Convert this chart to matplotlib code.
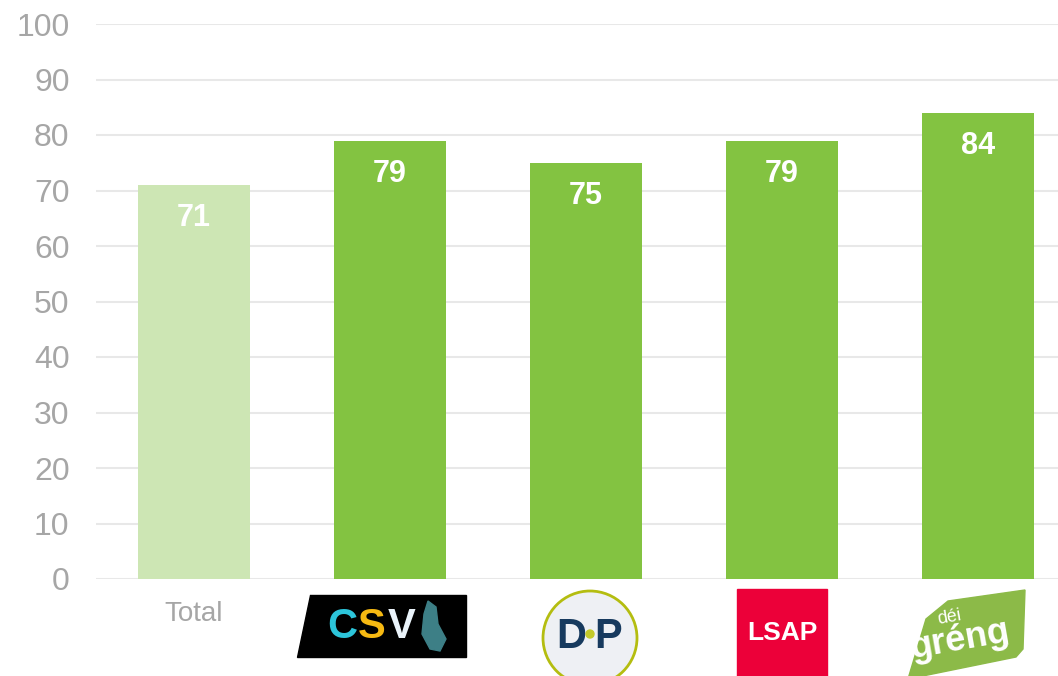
import matplotlib
matplotlib.use("Agg")
import matplotlib.pyplot as plt
from matplotlib.patches import Polygon, Ellipse, Rectangle

plt.rcParams['font.family'] = ['Liberation Sans', 'DejaVu Sans']

# data
parties = ['Total', 'CSV', 'DP', 'LSAP', 'déi gréng']
values = [71, 79, 75, 79, 84]
bar_colors = ['#cde6b4', '#83c341', '#83c341', '#83c341', '#83c341']

fig = plt.figure(figsize=(10.58, 6.76), dpi=100)
ax = fig.add_axes([96 / 1058, 97 / 676, (1058 - 96) / 1058, 555 / 676])

x = list(range(len(parties)))
bars = ax.bar(x, values, width=0.571, color=bar_colors, zorder=3)

for xi, v in zip(x, values):
    ax.text(xi, v - 6, str(v), ha='center', va='center', color='white',
            fontsize=22, fontweight='bold', zorder=4)

ax.set_ylim(0, 100)
ax.set_xlim(-0.5, -0.5 + (1058 - 96) / 196)
ax.set_yticks(range(0, 101, 10))
ax.yaxis.grid(True, color='#e8e8e8', linewidth=1.5, zorder=0)
ax.set_axisbelow(True)
for s in ax.spines.values():
    s.set_visible(False)
ax.tick_params(axis='y', length=0, pad=19, labelsize=23, labelcolor='#a6a6a6')
ax.set_xticks([])

# logos under the axis: x in data units, y in axes fraction
tr = ax.get_xaxis_transform()


def p(i, dx, dy):
    # dx, dy in pixels relative to category centre / axis bottom
    return (i + dx / 196, -dy / 555)


ax.text(0, -35 / 555, 'Total', transform=tr, ha='center', va='center',
        fontsize=20, color='#a6a6a6', clip_on=False)

# CSV
ax.add_patch(Polygon([p(1, -80, 16), p(1, 76, 16), p(1, 76, 78), p(1, -93, 78)],
                     closed=True, transform=tr, color='black', clip_on=False))
for ch, dx, col in [('C', -48, '#2cc5da'), ('S', -18, '#f6b912'), ('V', 12, '#eaf3fa')]:
    ax.text(*p(1, dx, 48), ch, transform=tr, ha='center', va='center',
            fontsize=30, fontweight='bold', color=col, clip_on=False)
ax.add_patch(Polygon([p(1, 38, 22), p(1, 46, 28), p(1, 48, 45), p(1, 56, 60),
                      p(1, 50, 72), p(1, 40, 70), p(1, 32, 55), p(1, 34, 35)],
                     closed=True, transform=tr, color='#3d7f86', clip_on=False))

# DP
ax.add_patch(Ellipse(p(2, 4, 59), 94 / 196, 94 / 555, transform=tr,
                     facecolor='#eef0f4', edgecolor='#b4bd10', linewidth=2, clip_on=False))
ax.text(*p(2, -15, 58), 'D', transform=tr, ha='center', va='center',
        fontsize=30, fontweight='bold', color='#173a5e', clip_on=False)
ax.text(*p(2, 22, 58), 'P', transform=tr, ha='center', va='center',
        fontsize=30, fontweight='bold', color='#173a5e', clip_on=False)
ax.add_patch(Ellipse(p(2, 4, 55), 8 / 196, 8 / 555, transform=tr,
                     color='#c3c92a', clip_on=False, zorder=5))

# LSAP
ax.add_patch(Rectangle(p(3, -45, 97), 90 / 196, 87 / 555, transform=tr,
                       color='#ec0039', clip_on=False))
ax.text(*p(3, 0, 54), 'LSAP', transform=tr, ha='center', va='center',
        fontsize=19, fontweight='bold', color='white', clip_on=False)

# dei greng
ax.add_patch(Polygon([p(4, -52, 40), p(4, -30, 22), p(4, 47, 11), p(4, 45, 70),
                      p(4, 38, 78), p(4, -70, 100)],
                     closed=True, transform=tr, color='#8cba48', clip_on=False))
ax.text(*p(4, -42, 38), 'déi', transform=tr, ha='left', va='center',
        fontsize=13, color='white', clip_on=False, rotation=10)
ax.text(*p(4, -18, 61), 'gréng', transform=tr, ha='center', va='center',
        fontsize=26, fontweight='bold', color='white', clip_on=False, rotation=10)

fig.savefig('out.png', dpi=100)
